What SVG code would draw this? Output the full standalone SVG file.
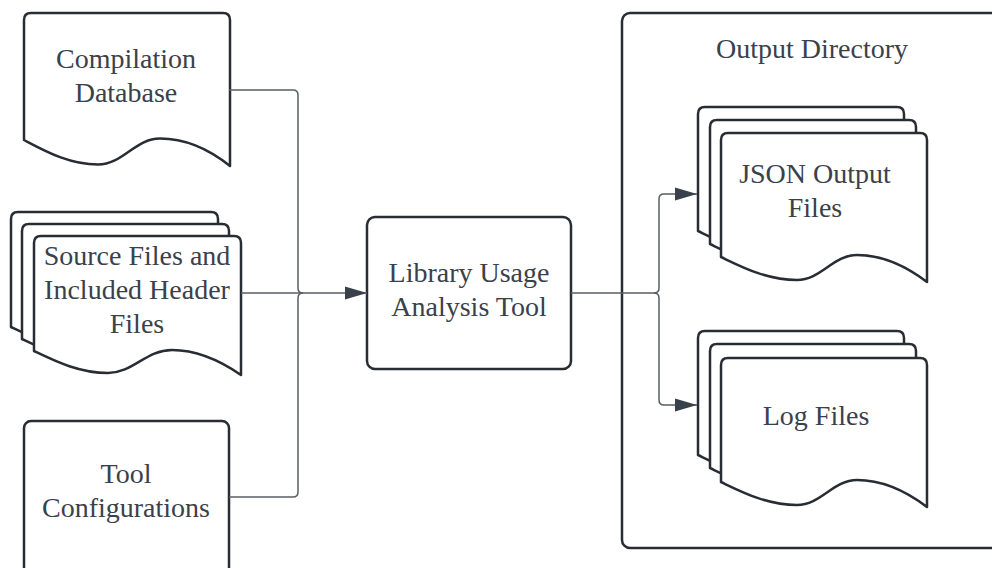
<svg xmlns="http://www.w3.org/2000/svg" xmlns:xlink="http://www.w3.org/1999/xlink" width="992" height="568" viewBox="0 0 992 568">
  <style>
    .shape { fill: #ffffff; stroke: #282c33; stroke-width: 2.5; stroke-linejoin: round; }
    .label { font-family: "Liberation Serif", "DejaVu Serif", serif; font-size: 28px; fill: #3a414a; text-anchor: middle; }
    .wire { fill: none; stroke: #5a5f66; stroke-width: 1.5; }
  </style>
  <defs>
    <!-- document sheets with a wavy lower edge, origin at top-left -->
    <path id="doc153" class="shape" d="M0,127 V7 Q0,0 7,0 H199 Q206,0 206,7 V153 C181,133 157,125.5 136,125.5 C111,125.5 99,151.5 74,151.5 C45,151.5 21,138 0,127 Z"/>
    <path id="doc139" class="shape" d="M0,115 V7 Q0,0 7,0 H200 Q207,0 207,7 V139 C181,121 157,114 138,114 C112,114 99,137 74,137 C45,137 21,125 0,115 Z"/>
    <path id="doc149" class="shape" d="M0,124 V7 Q0,0 7,0 H199 Q206,0 206,7 V149 C181,130 157,122 136,122 C112,122 100,147 76,147 C46,147 21,134 0,124 Z"/>
    <marker id="arrow" markerUnits="userSpaceOnUse" markerWidth="22" markerHeight="14" refX="22" refY="7" orient="auto">
      <path d="M0,0.5 L22,7 L0,13.5 Z" fill="#3a414a"/>
    </marker>
  </defs>

  <!-- container -->
  <g id="output-directory">
    <rect class="shape" x="622" y="13" width="420" height="535" rx="8"/>
    <text class="label" x="812" y="58">Output Directory</text>
  </g>

  <g id="compilation-database">
    <use xlink:href="#doc153" x="24" y="13"/>
    <text class="label" x="126" y="68">Compilation</text>
    <text class="label" x="126" y="102">Database</text>
  </g>

  <g id="source-files">
    <use xlink:href="#doc139" x="11" y="212"/>
    <use xlink:href="#doc139" x="22" y="224"/>
    <use xlink:href="#doc139" x="34" y="236"/>
    <text class="label" x="137" y="265">Source Files and</text>
    <text class="label" x="137" y="299">Included Header</text>
    <text class="label" x="137" y="333">Files</text>
  </g>

  <g id="tool-configurations">
    <rect class="shape" x="24" y="421" width="205" height="175" rx="7"/>
    <text class="label" x="126" y="483">Tool</text>
    <text class="label" x="126" y="517">Configurations</text>
  </g>

  <g id="analysis-tool">
    <rect class="shape" x="367" y="217" width="204" height="152" rx="8"/>
    <text class="label" x="469" y="282">Library Usage</text>
    <text class="label" x="469" y="316">Analysis Tool</text>
  </g>

  <g id="json-output">
    <use xlink:href="#doc149" x="698" y="107"/>
    <use xlink:href="#doc149" x="710" y="120"/>
    <use xlink:href="#doc149" x="721" y="133"/>
    <text class="label" x="815" y="183">JSON Output</text>
    <text class="label" x="815" y="217">Files</text>
  </g>

  <g id="log-files">
    <use xlink:href="#doc149" x="698" y="331"/>
    <use xlink:href="#doc149" x="710" y="344"/>
    <use xlink:href="#doc149" x="721" y="358"/>
    <text class="label" x="816" y="425">Log Files</text>
  </g>

  <g id="connectors">
    <path class="wire" d="M229,90 H293 Q298,90 298,95 V288 Q298,293 303,293"/>
    <path class="wire" d="M229,497 H293 Q298,497 298,492 V298 Q298,293 303,293"/>
    <path class="wire" d="M241,293 H367" marker-end="url(#arrow)"/>
    <path class="wire" d="M571,293 H654 Q659,293 659,288 V199 Q659,194 664,194 H697" marker-end="url(#arrow)"/>
    <path class="wire" d="M654,293 Q659,293 659,298 V400 Q659,405 664,405 H697" marker-end="url(#arrow)"/>
  </g>
</svg>
